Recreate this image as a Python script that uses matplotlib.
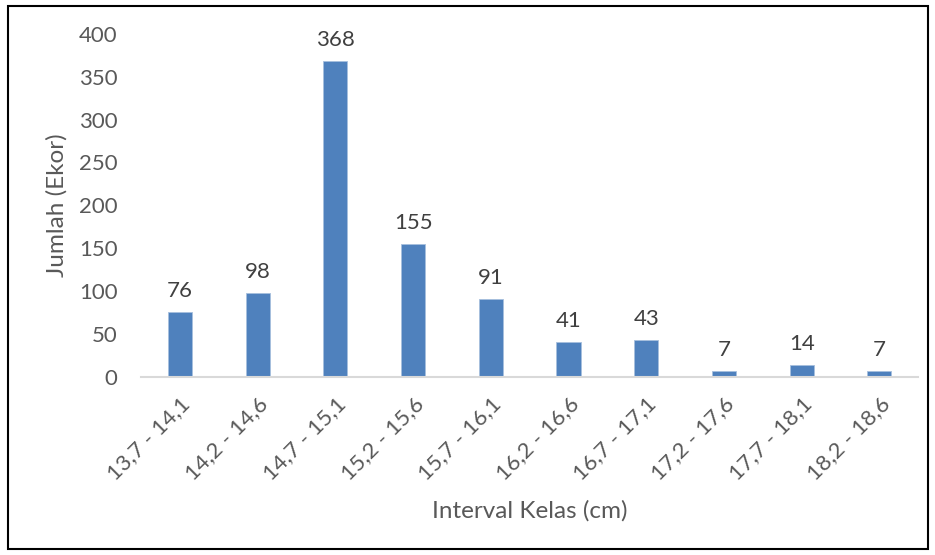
import matplotlib.pyplot as plt
from matplotlib.patches import Rectangle

kelas = ['13,7 - 14,1', '14,2 - 14,6', '14,7 - 15,1', '15,2 - 15,6', '15,7 - 16,1',
         '16,2 - 16,6', '16,7 - 17,1', '17,2 - 17,6', '17,7 - 18,1', '18,2 - 18,6']
jumlah = [76, 98, 368, 155, 91, 41, 43, 7, 14, 7]
yticks = [0, 50, 100, 150, 200, 250, 300, 350, 400]

grey = '#595959'
plt.rcParams['font.family'] = ['Lato', 'DejaVu Sans']

fig = plt.figure(figsize=(9.35, 5.55), dpi=100)
ax = fig.add_axes([0.151, 0.321, 0.831, 0.618])

x = range(len(kelas))
bars = ax.bar(x, jumlah, width=0.31, color='#4F81BD', edgecolor='#A7BFDE', linewidth=0.6)
for b, v in zip(bars, jumlah):
    ax.annotate(str(v), (b.get_x() + b.get_width() / 2, v), xytext=(0, 8),
                textcoords='offset points', ha='center', va='bottom',
                fontsize=16, color='#404040')

ax.set_xlim(-0.5, len(kelas) - 0.5)
ax.set_ylim(0, 400)
ax.set_yticks(yticks)
ax.set_xticks(list(x))
ax.set_xticklabels(kelas, rotation=45, ha='right', rotation_mode='anchor')
ax.tick_params(axis='both', length=0, labelsize=16, labelcolor=grey)
ax.tick_params(axis='y', pad=17)
ax.tick_params(axis='x', pad=12)

for s in ['top', 'right', 'left']:
    ax.spines[s].set_visible(False)
ax.spines['bottom'].set_color('#D9D9D9')
ax.spines['bottom'].set_linewidth(1.5)

ax.set_ylabel('Jumlah (Ekor)', fontsize=17.5, color=grey, labelpad=8)
ax.set_xlabel('Interval Kelas (cm)', fontsize=17.5, color=grey, labelpad=12)

# outer frame around the whole chart
fig.patches.append(Rectangle((0.009, 0.011), 0.983, 0.978, transform=fig.transFigure,
                             fill=False, edgecolor='black', linewidth=1.5))

fig.savefig('out.png', dpi=100)
